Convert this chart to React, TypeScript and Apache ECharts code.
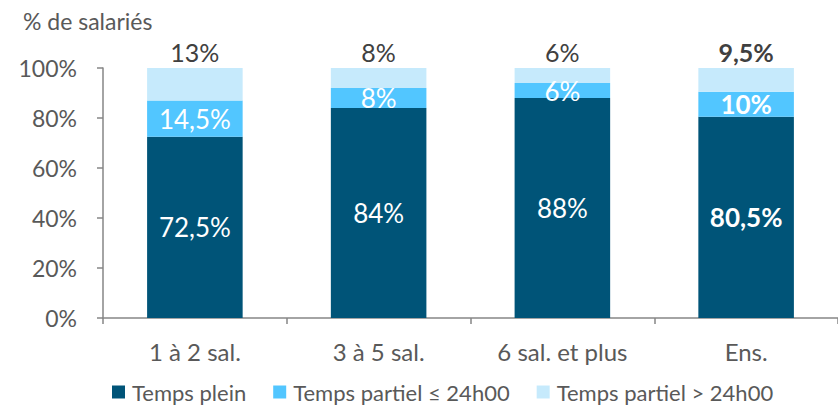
import React, { useEffect, useRef } from "react";
import * as echarts from "echarts";

const categories = ["1 à 2 sal.", "3 à 5 sal.", "6 sal. et plus", "Ens."];
const seriesNames = ["Temps plein", "Temps partiel ≤ 24h00", "Temps partiel > 24h00"];
const tempsPlein = [72.5, 84, 88, 80.5];
const partielCourt = [14.5, 8, 6, 10];
const partielLong = [13, 8, 6, 9.5];
const colors = ["#005478", "#52C6FF", "#C6EAFC"];
const yTicks = [0, 20, 40, 60, 80, 100];

const FONT = "Lato, 'Open Sans', sans-serif";

const fmt = (v: number) => String(v).replace(".", ",") + "%";

export default function App() {
  const ref = useRef<HTMLDivElement>(null);
  useEffect(() => {
    if (!ref.current) return;
    const chart = echarts.init(ref.current, undefined, { renderer: "svg" });
    const mk = (vals: number[]) =>
      vals.map((v, i) => ({
        value: v,
        label: i === categories.length - 1 ? { fontWeight: "bold" as const } : {},
      }));
    chart.setOption({
      animation: false,
      textStyle: { fontFamily: FONT },
      title: {
        text: "% de salariés",
        left: 18,
        top: 4,
        textStyle: { fontSize: 23, fontWeight: "normal", color: "#595959", fontFamily: FONT },
      },
      legend: {
        top: 381,
        left: 112,
        padding: 0,
        itemWidth: 13,
        itemHeight: 13,
        itemGap: 27,
        icon: "rect",
        data: seriesNames,
        textStyle: { fontSize: 22, color: "#595959", fontFamily: FONT, padding: [0, 0, 0, 2] },
      },
      grid: { left: 103, top: 68, width: 736, height: 250, containLabel: false },
      xAxis: {
        type: "category",
        data: categories,
        axisLine: { lineStyle: { color: "#868686", width: 1.5 } },
        axisTick: { show: true, length: 6, alignWithLabel: false, lineStyle: { color: "#868686", width: 1.5 } },
        axisLabel: { fontSize: 24, color: "#595959", margin: 21, fontFamily: FONT },
      },
      yAxis: {
        type: "value",
        min: 0,
        max: 100,
        interval: 20,
        splitLine: { show: false },
        axisLine: { show: true, lineStyle: { color: "#868686", width: 1.5 } },
        axisTick: { show: true, length: 6, lineStyle: { color: "#868686", width: 1.5 } },
        axisLabel: {
          fontSize: 23,
          color: "#595959",
          margin: 26,
          fontFamily: FONT,
          formatter: (v: number) => (yTicks.includes(v) ? v + "%" : ""),
        },
      },
      series: [
        {
          name: seriesNames[0],
          type: "bar",
          stack: "s",
          barWidth: "52%",
          itemStyle: { color: colors[0] },
          label: {
            show: true,
            position: "inside",
            color: "#ffffff",
            fontSize: 26,
            fontFamily: FONT,
            formatter: (p: any) => fmt(p.value),
          },
          data: mk(tempsPlein),
        },
        {
          name: seriesNames[1],
          type: "bar",
          stack: "s",
          itemStyle: { color: colors[1] },
          label: {
            show: true,
            position: "inside",
            color: "#ffffff",
            fontSize: 26,
            fontFamily: FONT,
            formatter: (p: any) => fmt(p.value),
          },
          data: mk(partielCourt),
        },
        {
          name: seriesNames[2],
          type: "bar",
          stack: "s",
          itemStyle: { color: colors[2] },
          label: {
            show: true,
            position: "top",
            distance: 4,
            color: "#404040",
            fontSize: 25,
            fontFamily: FONT,
            formatter: (p: any) => fmt(p.value),
          },
          data: mk(partielLong),
        },
      ],
    });
    return () => chart.dispose();
  }, []);
  return (
    <div
      ref={ref}
      style={{ position: "fixed", left: 0, top: 0, width: 838, height: 405, background: "#fff" }}
    />
  );
}
